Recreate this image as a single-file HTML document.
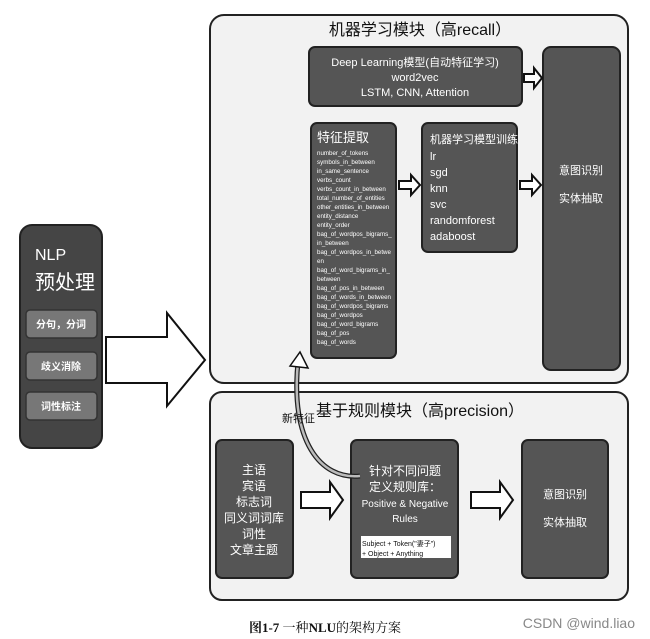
<!DOCTYPE html>
<html><head><meta charset="utf-8"><style>
body{margin:0;background:#fff;}
svg{display:block;}
text{font-family:"Liberation Sans","Noto Sans CJK SC",sans-serif;fill:#fff;}
.d{fill:#111;}
</style></head><body>
<svg width="650" height="639" viewBox="0 0 650 639" xmlns="http://www.w3.org/2000/svg">
<!-- containers -->
<rect x="210" y="15" width="418" height="368" rx="14" fill="#f2f2f2" stroke="#222" stroke-width="2"/>
<rect x="210" y="392" width="418" height="208" rx="12" fill="#f2f2f2" stroke="#222" stroke-width="2"/>
<text x="420" y="35" font-size="16" text-anchor="middle" class="d" style="fill:#111">机器学习模块（高recall）</text>
<text x="420" y="416" font-size="16" text-anchor="middle" style="fill:#111">基于规则模块（高precision）</text>

<!-- top boxes -->
<rect x="309" y="47" width="213" height="59" rx="6" fill="#555" stroke="#222" stroke-width="2"/>
<text x="415" y="66" font-size="11" text-anchor="middle">Deep Learning模型(自动特征学习)</text>
<text x="415" y="81" font-size="11" text-anchor="middle">word2vec</text>
<text x="415" y="96" font-size="11" text-anchor="middle">LSTM, CNN, Attention</text>

<rect x="311" y="123" width="85" height="235" rx="6" fill="#555" stroke="#222" stroke-width="2"/>
<text x="317" y="142" font-size="13">特征提取</text>
<g font-size="6.2">
<text x="317" y="155">number_of_tokens</text>
<text x="317" y="164">symbols_in_between</text>
<text x="317" y="173">in_same_sentence</text>
<text x="317" y="182">verbs_count</text>
<text x="317" y="191">verbs_count_in_between</text>
<text x="317" y="200">total_number_of_entities</text>
<text x="317" y="209">other_entities_in_between</text>
<text x="317" y="218">entity_distance</text>
<text x="317" y="227">entity_order</text>
<text x="317" y="236">bag_of_wordpos_bigrams_</text>
<text x="317" y="245">in_between</text>
<text x="317" y="254">bag_of_wordpos_in_betwe</text>
<text x="317" y="263">en</text>
<text x="317" y="272">bag_of_word_bigrams_in_</text>
<text x="317" y="281">between</text>
<text x="317" y="290">bag_of_pos_in_between</text>
<text x="317" y="299">bag_of_words_in_between</text>
<text x="317" y="308">bag_of_wordpos_bigrams</text>
<text x="317" y="317">bag_of_wordpos</text>
<text x="317" y="326">bag_of_word_bigrams</text>
<text x="317" y="335">bag_of_pos</text>
<text x="317" y="344">bag_of_words</text>
</g>

<rect x="422" y="123" width="95" height="129" rx="6" fill="#555" stroke="#222" stroke-width="2"/>
<g font-size="11">
<text x="430" y="143">机器学习模型训练</text>
<text x="430" y="160">lr</text>
<text x="430" y="176">sgd</text>
<text x="430" y="192">knn</text>
<text x="430" y="208">svc</text>
<text x="430" y="224">randomforest</text>
<text x="430" y="240">adaboost</text>
</g>

<rect x="543" y="47" width="77" height="323" rx="8" fill="#555" stroke="#222" stroke-width="2"/>
<text x="581" y="174" font-size="11" text-anchor="middle">意图识别</text>
<text x="581" y="202" font-size="11" text-anchor="middle">实体抽取</text>

<!-- small hollow arrows -->
<g fill="#fff" stroke="#111" stroke-width="2">
<path d="M524 74 H534 V68 L542 78 L534 88 V82 H524 Z"/>
<path d="M399 181 H411 V175 L420 185 L411 195 V189 H399 Z"/>
<path d="M520 181 H532 V175 L541 185 L532 195 V189 H520 Z"/>
<path d="M301 492 H330 V482 L343 500 L330 518 V508 H301 Z"/>
<path d="M471 492 H500 V482 L513 500 L500 518 V508 H471 Z"/>
</g>

<!-- bottom boxes -->
<rect x="216" y="440" width="77" height="138" rx="6" fill="#555" stroke="#222" stroke-width="2"/>
<g font-size="12" text-anchor="middle">
<text x="254" y="474">主语</text>
<text x="254" y="490">宾语</text>
<text x="254" y="506">标志词</text>
<text x="254" y="522">同义词词库</text>
<text x="254" y="538">词性</text>
<text x="254" y="554">文章主题</text>
</g>
<rect x="351" y="440" width="107" height="138" rx="6" fill="#555" stroke="#222" stroke-width="2"/>
<g text-anchor="middle">
<text x="405" y="475" font-size="12">针对不同问题</text>
<text x="405" y="491" font-size="12">定义规则库：</text>
<text x="405" y="507" font-size="10">Positive &amp; Negative</text>
<text x="405" y="522" font-size="10">Rules</text>
</g>
<rect x="361" y="536" width="90" height="22" fill="#fff"/>
<text x="362" y="546" font-size="7" style="fill:#111">Subject + Token("妻子")</text>
<text x="362" y="556" font-size="7" style="fill:#111">+ Object + Anything</text>
<rect x="522" y="440" width="86" height="138" rx="6" fill="#555" stroke="#222" stroke-width="2"/>
<text x="565" y="498" font-size="11" text-anchor="middle">意图识别</text>
<text x="565" y="526" font-size="11" text-anchor="middle">实体抽取</text>

<!-- curve -->
<path d="M360 476 C320 480 290 440 298 362" fill="none" stroke="#222" stroke-width="5"/>
<path d="M360 476 C320 480 290 440 298 362" fill="none" stroke="#bbb" stroke-width="2.5"/>
<path d="M290 366 L300 352 L308 368 Z" fill="#fff" stroke="#111" stroke-width="1.5"/>
<text x="282" y="422" font-size="11" style="fill:#111">新特征</text>

<!-- NLP box -->
<rect x="20" y="225" width="82" height="223" rx="12" fill="#454545" stroke="#222" stroke-width="2"/>
<text x="35" y="260" font-size="16">NLP</text>
<text x="35" y="289" font-size="20">预处理</text>
<g fill="#777" stroke="#333" stroke-width="1.5">
<rect x="26" y="310" width="71" height="28" rx="4"/>
<rect x="26" y="352" width="71" height="28" rx="4"/>
<rect x="26" y="392" width="71" height="28" rx="4"/>
</g>
<g font-size="10" text-anchor="middle" font-weight="bold">
<text x="61" y="328">分句，分词</text>
<text x="61" y="370">歧义消除</text>
<text x="61" y="410">词性标注</text>
</g>

<!-- big arrow -->
<path d="M106 337 H167 V313 L205 360 L167 406 V383 H106 Z" fill="#fff" stroke="#111" stroke-width="2"/>

<!-- caption -->
<text x="325" y="632" font-size="13" text-anchor="middle" style="fill:#111;font-family:'Liberation Serif','Noto Serif CJK SC',serif"><tspan font-weight="bold">图1-7</tspan> 一种<tspan font-weight="bold">NLU</tspan>的架构方案</text>
<text x="635" y="628" font-size="14" text-anchor="end" style="fill:#888">CSDN @wind.liao</text>
</svg>
</body></html>
